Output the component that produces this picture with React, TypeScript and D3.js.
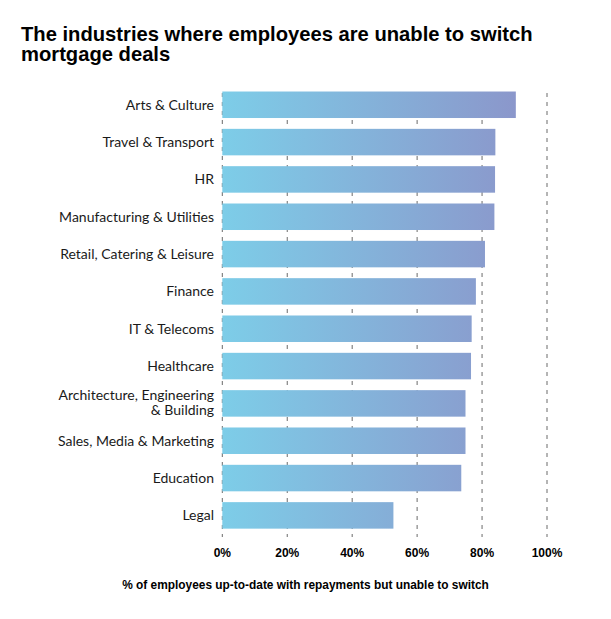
import React from "react";
import * as d3 from "d3";

const categories = [
  "Arts & Culture",
  "Travel & Transport",
  "HR",
  "Manufacturing & Utilities",
  "Retail, Catering & Leisure",
  "Finance",
  "IT & Telecoms",
  "Healthcare",
  "Architecture, Engineering\n& Building",
  "Sales, Media & Marketing",
  "Education",
  "Legal",
];
const values = [90.4, 84.1, 84.0, 83.8, 80.9, 78.1, 76.8, 76.6, 74.9, 74.9, 73.6, 52.7];
const ticks = [0, 20, 40, 60, 80, 100];
const titleLines = ["The industries where employees are unable to switch", "mortgage deals"];
const axisTitle = "% of employees up-to-date with repayments but unable to switch";

const W = 611;
const H = 619;

export default function App() {
  const x = d3.scaleLinear().domain([0, 100]).range([222.3, 547]);
  const y = d3
    .scaleBand<string>()
    .domain(categories)
    .range([86.1, 86.1 + 37.33 * categories.length])
    .paddingInner(0.29)
    .paddingOuter(0.145);
  const bw = y.bandwidth();
  const maxV = d3.max(values) as number;

  return (
    <svg
      width={W}
      height={H}
      style={{ position: "absolute", left: 0, top: 0, background: "#fff" }}
    >
      <defs>
        <linearGradient
          id="barGrad"
          gradientUnits="userSpaceOnUse"
          x1={x(0)}
          x2={x(maxV)}
          y1={0}
          y2={0}
        >
          <stop offset="0%" stopColor="#7dcde8" />
          <stop offset="100%" stopColor="#8b97cb" />
        </linearGradient>
      </defs>
      <rect width={W} height={H} fill="#fff" />
      {titleLines.map((t, i) => (
        <text
          key={i}
          x={21}
          y={40.5 + i * 20.5}
          fontFamily="'Liberation Sans', Arial, sans-serif"
          fontWeight="bold"
          fontSize={20.2}
          fill="#000"
        >
          {t}
        </text>
      ))}
      {ticks.map((t) => (
        <line
          key={t}
          x1={x(t)}
          x2={x(t)}
          y1={93}
          y2={537}
          stroke="#6a6a6a"
          strokeWidth={1}
          strokeDasharray="4,5"
        />
      ))}
      {categories.map((c, i) => (
        <rect
          key={c}
          x={x(0)}
          y={y(c)}
          width={x(values[i]) - x(0)}
          height={bw}
          fill="url(#barGrad)"
        />
      ))}
      {categories.map((c) => {
        const lines = c.split("\n");
        const cy = (y(c) as number) + bw / 2;
        return (
          <text
            key={c}
            x={214}
            textAnchor="end"
            fontFamily="Lato, 'Open Sans', sans-serif"
            fontSize={14}
            fill="#1a1a1a"
          >
            {lines.map((l, j) => (
              <tspan
                key={j}
                x={214}
                y={cy + (j - (lines.length - 1) / 2) * 15 - (lines.length - 1) * 1}
                dy="0.35em"
              >
                {l}
              </tspan>
            ))}
          </text>
        );
      })}
      {ticks.map((t) => (
        <text
          key={t}
          x={x(t)}
          y={556.5}
          textAnchor="middle"
          fontFamily="'Liberation Sans', Arial, sans-serif"
          fontWeight="bold"
          fontSize={12}
          fill="#000"
        >
          {t + "%"}
        </text>
      ))}
      <text
        x={305.5}
        y={588.5}
        textAnchor="middle"
        fontFamily="'Liberation Sans', Arial, sans-serif"
        fontWeight="bold"
        fontSize={11.9}
        fill="#000"
      >
        {axisTitle}
      </text>
    </svg>
  );
}
